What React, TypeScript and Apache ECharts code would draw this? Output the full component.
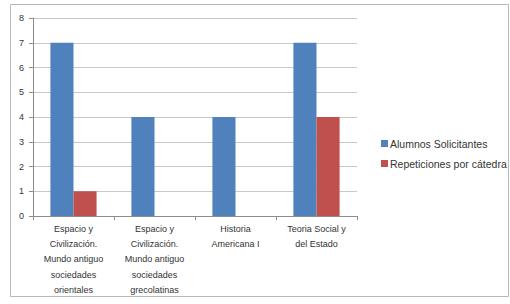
import React, { useEffect, useRef } from "react";
import * as echarts from "echarts";

const categories = [
  "Espacio y\nCivilización.\nMundo antiguo\nsociedades\norientales",
  "Espacio y\nCivilización.\nMundo antiguo\nsociedades\ngrecolatinas",
  "Historia\nAmericana I",
  "Teoria Social y\ndel Estado",
];
const alumnos = [7, 4, 4, 7];
const repeticiones = [1, 0, 0, 4];
const seriesNames = ["Alumnos Solicitantes", "Repeticiones por cátedra"];

export default function App() {
  const ref = useRef<HTMLDivElement>(null);
  useEffect(() => {
    if (!ref.current) return;
    const chart = echarts.init(ref.current, undefined, { renderer: "svg" });
    const font = "'Liberation Sans', Arial, sans-serif";
    chart.setOption({
      animation: false,
      backgroundColor: "#ffffff",
      textStyle: { fontFamily: font },
      graphic: [
        {
          type: "rect",
          shape: { x: 10.5, y: 4.5, width: 498, height: 292 },
          style: { fill: "none", stroke: "#b8b8b8", lineWidth: 1 },
          silent: true,
        },
      ],
      grid: { left: 33, top: 18, right: 153, bottom: 88, containLabel: false },
      legend: {
        orient: "vertical",
        left: 376,
        top: 133,
        itemWidth: 7,
        itemHeight: 7,
        itemGap: 9,
        icon: "rect",
        textStyle: { fontSize: 10.5, color: "#333", fontFamily: font, padding: [0, 0, 0, -3] },
        data: seriesNames,
      },
      xAxis: {
        type: "category",
        data: categories,
        axisLine: { lineStyle: { color: "#8c8c8c" } },
        axisTick: { show: true, alignWithLabel: false, length: 4, lineStyle: { color: "#8c8c8c" } },
        axisLabel: {
          interval: 0,
          fontSize: 9,
          lineHeight: 15.3,
          color: "#333",
          margin: 5,
          fontFamily: font,
        },
      },
      yAxis: {
        type: "value",
        min: 0,
        max: 8,
        interval: 1,
        axisLine: { show: true, lineStyle: { color: "#8c8c8c" } },
        axisTick: { show: true, length: 4, lineStyle: { color: "#8c8c8c" } },
        splitLine: { lineStyle: { color: "#c8c8c8" } },
        axisLabel: { fontSize: 9, color: "#333", margin: 9, fontFamily: font },
      },
      series: [
        {
          name: seriesNames[0],
          type: "bar",
          data: alumnos,
          itemStyle: { color: "#4F81BD" },
          barGap: "0%",
          barCategoryGap: "43%",
        },
        {
          name: seriesNames[1],
          type: "bar",
          data: repeticiones,
          itemStyle: { color: "#C0504D" },
        },
      ],
    });
    return () => chart.dispose();
  }, []);
  return (
    <div
      ref={ref}
      style={{ position: "fixed", left: 0, top: 0, width: 510, height: 304 }}
    />
  );
}
